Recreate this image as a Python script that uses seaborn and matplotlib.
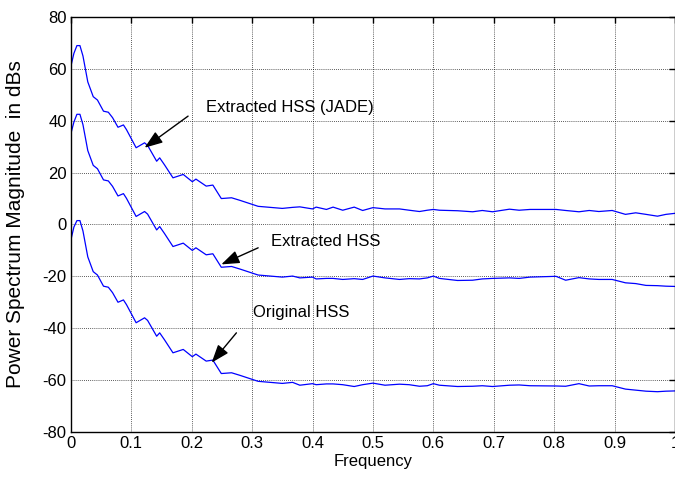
import matplotlib
matplotlib.use("Agg")
import matplotlib.pyplot as plt
import seaborn as sns
import pandas as pd

sns.set_style("white")
plt.rcParams['font.family'] = ['Liberation Sans', 'DejaVu Sans']
plt.rcParams['axes.unicode_minus'] = False
plt.rcParams['text.color'] = 'k'
plt.rcParams['axes.labelcolor'] = 'k'
plt.rcParams['xtick.color'] = 'k'
plt.rcParams['ytick.color'] = 'k'

freq = [0, 0.005, 0.01, 0.015, 0.02, 0.028, 0.037, 0.044, 0.054, 0.062,
        0.069, 0.078, 0.087, 0.092, 0.108, 0.122, 0.127, 0.142, 0.147, 0.155,
        0.169, 0.186, 0.201, 0.207, 0.224, 0.235, 0.249, 0.266, 0.28, 0.31,
        0.35, 0.367, 0.379, 0.4, 0.406, 0.423, 0.434, 0.45, 0.469, 0.483,
        0.5, 0.52, 0.544, 0.56, 0.577, 0.59, 0.6, 0.61, 0.64, 0.665,
        0.681, 0.698, 0.726, 0.742, 0.76, 0.803, 0.819, 0.841, 0.858, 0.874,
        0.896, 0.918, 0.935, 0.952, 0.971, 0.985, 1.0]

hss_jade = [61, 66, 69, 69, 65, 55, 49.3, 48, 43.7, 43.3,
            41.2, 37.5, 38.4, 36.6, 29.6, 31.5, 30.5, 24.4, 25.7, 23,
            18, 19.3, 16.5, 17.5, 14.8, 15.2, 10, 10.3, 9.3, 7,
            6.2, 6.6, 6.8, 6.0, 6.7, 5.8, 6.7, 5.5, 6.7, 5.4,
            6.5, 6.0, 6.0, 5.5, 5.0, 5.5, 5.8, 5.5, 5.3, 4.9,
            5.4, 4.9, 5.9, 5.5, 5.8, 5.8, 5.4, 4.9, 5.4, 5.0,
            5.4, 3.9, 4.5, 3.9, 3.2, 3.9, 4.3]

hss_extracted = [35, 39.5, 42.5, 42.5, 38.5, 28.5, 22.8, 21.5, 17.2, 16.8,
                 14.7, 11, 11.9, 10.1, 3.1, 5, 4, -2.1, -0.8, -3.5,
                 -8.5, -7.2, -10, -9, -11.7, -11.3, -16.5, -16.2, -17.2, -19.5,
                 -20.3, -19.9, -20.6, -20.3, -21, -20.8, -20.8, -21.2, -20.9, -21.2,
                 -19.9, -20.6, -21.2, -20.9, -21, -20.6, -19.9, -20.8, -21.6, -21.5,
                 -21, -20.8, -20.6, -20.8, -20.3, -20.0, -21.5, -20.5, -21, -21.2,
                 -21.2, -22.5, -22.8, -23.5, -23.6, -23.8, -23.9]

hss_original = [-6, -1, 1.5, 1.5, -2.5, -12.5, -18.2, -19.5, -23.8, -24.2,
                -26.3, -30, -29.1, -30.9, -37.9, -36, -37, -43.1, -41.8, -44.5,
                -49.5, -48.2, -51, -50, -52.7, -52.3, -57.5, -57.2, -58.2, -60.5,
                -61.3, -60.9, -62, -61.4, -61.8, -61.5, -61.5, -61.8, -62.5, -61.8,
                -61.2, -62, -61.6, -61.8, -62.4, -62.2, -61.4, -62, -62.5, -62.4,
                -62.2, -62.5, -62, -61.9, -62.2, -62.3, -62.4, -61.4, -62.3, -62.2,
                -62.2, -63.5, -63.9, -64.3, -64.5, -64.3, -64.2]

xticks = [0, 0.1, 0.2, 0.3, 0.4, 0.5, 0.6, 0.7, 0.8, 0.9, 1]
xticklabels = ['0', '0.1', '0.2', '0.3', '0.4', '0.5', '0.6', '0.7', '0.8', '0.9', '1']
yticks = [-80, -60, -40, -20, 0, 20, 40, 60, 80]

fig = plt.figure(figsize=(6.75, 4.88), dpi=100)
ax = fig.add_axes([0.105, 0.115, 0.895, 0.85])

for series in (hss_jade, hss_extracted, hss_original):
    df = pd.DataFrame({'Frequency': freq, 'dB': series})
    sns.lineplot(data=df, x='Frequency', y='dB', ax=ax, color=(0, 0, 1),
                 linewidth=0.9, estimator=None, sort=False)

ax.set_xlim(0, 1)
ax.set_ylim(-80, 80)
ax.set_xticks(xticks)
ax.set_xticklabels(xticklabels)
ax.set_yticks(yticks)
ax.grid(True, color='k', linestyle=(0, (1, 1.5)), linewidth=0.6, alpha=0.85)
ax.tick_params(direction='in', length=4, width=1, top=True, right=True,
               labelsize=12, colors='k', pad=3)
for sp in ax.spines.values():
    sp.set_visible(True)
    sp.set_color('k')
    sp.set_linewidth(1.0)

ax.set_xlabel('Frequency', fontsize=12, labelpad=2)
ax.set_ylabel('Power Spectrum Magnitude  in dBs', fontsize=15)
ax.yaxis.set_label_coords(-0.076, 0.5)

arrow = dict(arrowstyle='-|>,head_length=1.1,head_width=0.4', color='k',
             lw=1.0, shrinkA=0, shrinkB=0, mutation_scale=10)
ax.annotate('', xy=(0.122, 29.6), xytext=(0.194, 41.8), arrowprops=arrow)
ax.text(0.223, 45.1, 'Extracted HSS (JADE)', fontsize=12, va='center', ha='left')
ax.annotate('', xy=(0.249, -15.4), xytext=(0.31, -9), arrowprops=arrow)
ax.text(0.332, -6.6, 'Extracted HSS', fontsize=12, va='center', ha='left')
ax.annotate('', xy=(0.233, -53.3), xytext=(0.274, -41.8), arrowprops=arrow)
ax.text(0.302, -34, 'Original HSS', fontsize=12, va='center', ha='left')

fig.savefig('out.png', dpi=100)
